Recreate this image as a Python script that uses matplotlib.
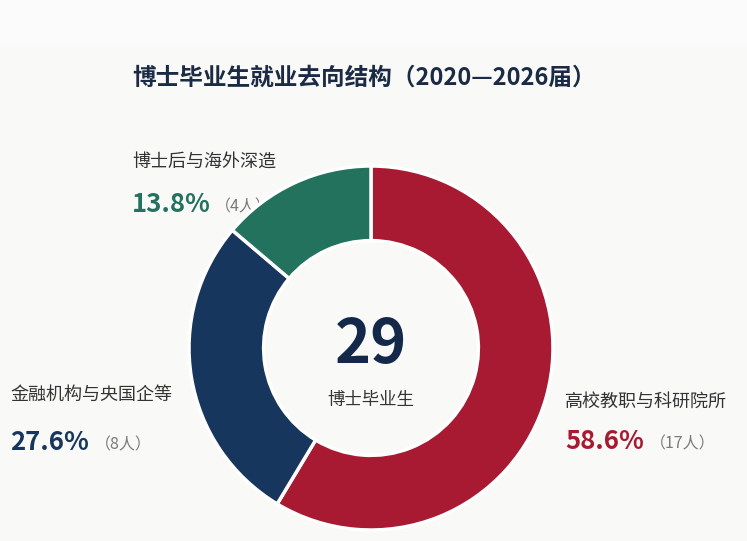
import matplotlib
matplotlib.use('Agg')
from matplotlib import pyplot as plt
from matplotlib.patches import Rectangle

plt.rcParams['font.family'] = ['Noto Sans CJK SC', 'DejaVu Sans']

# data
categories = ['高校教职与科研院所', '金融机构与央国企等', '博士后与海外深造']
counts = [17, 8, 4]
colors = ['#a81a32', '#17365d', '#23725e']
title = '博士毕业生就业去向结构（2020—2026届）'
center_label = '博士毕业生'

total = sum(counts)
pcts = [c / total * 100 for c in counts]

W, H = 747, 541
fig = plt.figure(figsize=(W / 100, H / 100), dpi=100)
fig.patch.set_facecolor('#f9f9f7')

# background axes in pixel coords for text
bg = fig.add_axes([0, 0, 1, 1])
bg.set_xlim(0, W)
bg.set_ylim(H, 0)
bg.axis('off')
bg.add_patch(Rectangle((0, 0), W, 43, color='#fbfbfb', zorder=0))

# donut
cx, cy, r = 371, 348, 182
pie_ax = fig.add_axes([(cx - r) / W, 1 - (cy + r) / H, 2 * r / W, 2 * r / H])
pie_ax.pie(counts, colors=colors, startangle=90, counterclock=False, radius=1,
           wedgeprops=dict(width=0.41, edgecolor='white', linewidth=2.5))
pie_ax.set_xlim(-1.0, 1.0)
pie_ax.set_ylim(-1.0, 1.0)
pie_ax.axis('off')

bg.text(364, 78, title, ha='center', va='center', fontsize=17,
        fontweight='bold', color='#1c2b45')

bg.text(cx, 345, str(total), ha='center', va='center', fontsize=44,
        fontweight='bold', color='#14294a')
bg.text(cx, 400, center_label, ha='center', va='center', fontsize=12.5,
        color='#333333')

# labels: (x, name y, pct baseline y, count x)
label_pos = {
    0: (565, 402, 449, 650),
    1: (10, 395, 450, 95),
    2: (132, 162, 212, 215),
}
for i, name in enumerate(categories):
    x, ny, py, qx = label_pos[i]
    bg.text(x, ny, name, ha='left', va='center', fontsize=13, color='#333333')
    bg.text(x, py, '%.1f%%' % pcts[i], ha='left', va='baseline', fontsize=18.5,
            fontweight='bold', color=colors[i])
    bg.text(qx, py - 1, '（%d人）' % counts[i], ha='left', va='baseline',
            fontsize=11.5, color='#7a7a7a')

plt.savefig('out.png', dpi=100, facecolor=fig.get_facecolor())
